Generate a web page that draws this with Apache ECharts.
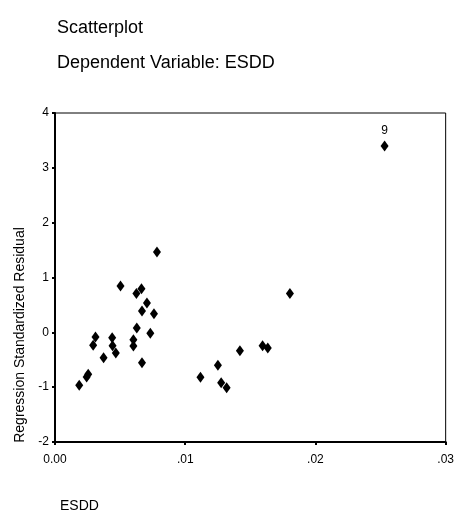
<!DOCTYPE html>
<html><head><meta charset="utf-8">
<script src="https://cdn.jsdelivr.net/npm/echarts@6/dist/echarts.min.js"></script>
<style>html,body{margin:0;padding:0;background:#fff}#c{width:457px;height:521px}</style>
</head><body><div id="c"></div>
<script>
const esdd = [0.00783,0.00503,0.00625,0.00664,0.00706,0.00668,0.00760,0.00628,0.00732,0.00311,
  0.00293,0.00439,0.00442,0.00467,0.00373,0.00602,0.00602,0.00668,0.00255,0.00243,
  0.00186,0.01420,0.01251,0.01117,0.01276,0.01318,0.01594,0.01634,0.01804,0.02531];
const residual = [1.465,0.845,0.706,0.797,0.535,0.389,0.341,0.078,-0.018,-0.086,
  -0.237,-0.097,-0.243,-0.378,-0.462,-0.133,-0.25,-0.553,-0.766,-0.816,
  -0.967,-0.338,-0.602,-0.821,-0.918,-1.009,-0.246,-0.286,0.706,3.40];
const caseLabels = ['','','','','','','','','','','','','','','','','','','','','','','','','','','','','','9'];
const xTickLabels = {0:'0.00',1:'.01',2:'.02',3:'.03'};
const yTicks = [-2,-1,0,1,2,3,4];

const font = 'Liberation Sans, Arial, sans-serif';
const data = esdd.map((x,i)=>({value:[x,residual[i]], label:{show:caseLabels[i]!=='', formatter:caseLabels[i]}}));
const chart = echarts.init(document.getElementById('c'), null, {renderer:'canvas'});
chart.setOption({
  animation:false,
  backgroundColor:'#fff',
  title:[
    {text:'Scatterplot', left:52, top:14, textStyle:{fontFamily:font,fontSize:18,fontWeight:'normal',color:'#000'}},
    {text:'Dependent Variable: ESDD', left:52, top:49, textStyle:{fontFamily:font,fontSize:18,fontWeight:'normal',color:'#000'}},
    {text:'ESDD', left:55, top:494, textStyle:{fontFamily:font,fontSize:14,fontWeight:'normal',color:'#000'}}
  ],
  grid:{left:55,right:10,top:113,bottom:79,show:true,borderColor:'#000',borderWidth:1,backgroundColor:'transparent'},
  xAxis:{type:'value',min:0,max:0.03,interval:0.01,
    axisLine:{show:true,onZero:false,lineStyle:{color:'#000',width:2}},
    axisTick:{show:true,length:3,lineStyle:{color:'#000',width:2}},
    splitLine:{show:false},
    axisLabel:{margin:12,fontFamily:font,fontSize:12,color:'#000',
      formatter:v=>xTickLabels[Math.round(v*100)]}},
  yAxis:{type:'value',min:yTicks[0],max:yTicks[yTicks.length-1],interval:1,
    name:'Regression Standardized Residual',nameLocation:'middle',nameGap:18,nameRotate:90,
    nameTextStyle:{fontFamily:font,fontSize:14,color:'#000',padding:[0,0,0,-115]},
    axisLine:{show:true,onZero:false,lineStyle:{color:'#000',width:2}},
    axisTick:{show:true,length:3,lineStyle:{color:'#000',width:2}},
    splitLine:{show:false},
    axisLabel:{margin:6,fontFamily:font,fontSize:12,color:'#000'}},
  series:[{type:'scatter',symbol:'diamond',symbolSize:[8,11],
    itemStyle:{color:'#000',opacity:1},
    label:{position:'top',distance:4,fontFamily:font,fontSize:12,color:'#000'},
    data:data}]
});
</script></body></html>
